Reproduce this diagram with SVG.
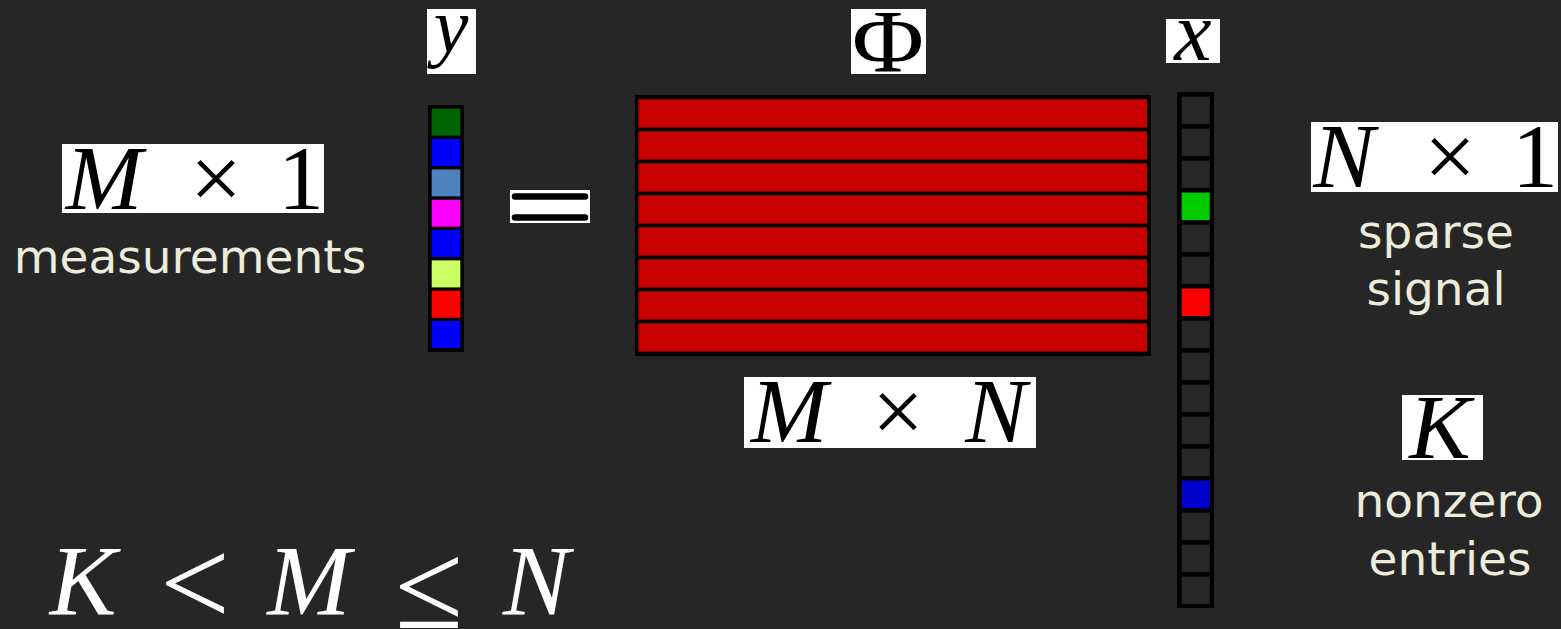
<svg xmlns="http://www.w3.org/2000/svg" width="1561" height="629" viewBox="0 0 1561 629">
<style>
.bg{fill:#262626}
.lblbox{fill:#ffffff}
.m{font-family:"Liberation Serif",serif;fill:#000000;text-anchor:middle}
.mi{font-family:"Liberation Serif",serif;font-style:italic;fill:#000000;text-anchor:middle}
.mw{font-family:"Liberation Serif",serif;fill:#ffffff;text-anchor:middle}
.mwi{font-family:"Liberation Serif",serif;font-style:italic;fill:#ffffff;text-anchor:middle}
.cap{font-family:"DejaVu Sans",Verdana,sans-serif;font-size:47px;fill:#ECECDC;text-anchor:middle}
.frame{fill:#000000}
.xcell{fill:#282828}
.row{fill:#C80000}
.bar{stroke:#000000;stroke-width:6.5;stroke-linecap:round}
</style>
<rect class="bg" x="0" y="0" width="1561" height="629"/>

<g id="y-vector">
  <rect class="lblbox" x="427" y="9" width="49" height="65"/>
  <text class="mi" x="451" y="52" font-size="78">y</text>
  <rect class="frame" x="428" y="105" width="36" height="247"/>
  <rect x="431.7" y="108.7" width="28.6" height="27" fill="#006400"/>
  <rect x="431.7" y="139.0" width="28.6" height="27" fill="#0000FF"/>
  <rect x="431.7" y="169.4" width="28.6" height="27" fill="#4F81BD"/>
  <rect x="431.7" y="199.7" width="28.6" height="27" fill="#FF00FF"/>
  <rect x="431.7" y="230.0" width="28.6" height="27" fill="#0000FF"/>
  <rect x="431.7" y="260.4" width="28.6" height="27" fill="#CCFF66"/>
  <rect x="431.7" y="290.7" width="28.6" height="27" fill="#FF0000"/>
  <rect x="431.7" y="321.0" width="28.6" height="27" fill="#0000FF"/>
</g>

<g id="equals">
  <rect class="lblbox" x="510" y="190" width="80" height="33"/>
  <line class="bar" x1="515" y1="196.5" x2="585" y2="196.5"/>
  <line class="bar" x1="515" y1="217.5" x2="585" y2="217.5"/>
</g>

<g id="phi-matrix">
  <rect class="lblbox" x="851" y="9" width="75" height="65"/>
  <text class="m" x="888" y="71" font-size="88" textLength="72" lengthAdjust="spacingAndGlyphs">Φ</text>
  <rect class="frame" x="635" y="95" width="516" height="261"/>
  <rect class="row" x="638.5" y="99.3" width="508.5" height="28.3"/>
  <rect class="row" x="638.5" y="131.3" width="508.5" height="28.3"/>
  <rect class="row" x="638.5" y="163.3" width="508.5" height="28.3"/>
  <rect class="row" x="638.5" y="195.3" width="508.5" height="28.3"/>
  <rect class="row" x="638.5" y="227.3" width="508.5" height="28.3"/>
  <rect class="row" x="638.5" y="259.3" width="508.5" height="28.3"/>
  <rect class="row" x="638.5" y="291.3" width="508.5" height="28.3"/>
  <rect class="row" x="638.5" y="323.3" width="508.5" height="28.3"/>
  <rect class="lblbox" x="744" y="377" width="292" height="71"/>
  <text class="mi" x="789" y="442" font-size="92">M</text>
  <text class="m" x="898" y="442" font-size="92">×</text>
  <text class="mi" x="996" y="442" font-size="92">N</text>
</g>

<g id="x-vector">
  <rect class="lblbox" x="1166" y="19" width="54" height="44"/>
  <text class="mi" x="1193" y="60" font-size="84">x</text>
  <rect class="frame" x="1177" y="92" width="37" height="516"/>
  <rect class="xcell" x="1181.7" y="96.6" width="28" height="27.5"/>
  <rect class="xcell" x="1181.7" y="128.6" width="28" height="27.5"/>
  <rect class="xcell" x="1181.7" y="160.6" width="28" height="27.5"/>
  <rect x="1181.7" y="192.6" width="28" height="27.5" fill="#00CC00"/>
  <rect class="xcell" x="1181.7" y="224.6" width="28" height="27.5"/>
  <rect class="xcell" x="1181.7" y="256.6" width="28" height="27.5"/>
  <rect x="1181.7" y="288.6" width="28" height="27.5" fill="#FF0000"/>
  <rect class="xcell" x="1181.7" y="320.6" width="28" height="27.5"/>
  <rect class="xcell" x="1181.7" y="352.6" width="28" height="27.5"/>
  <rect class="xcell" x="1181.7" y="384.6" width="28" height="27.5"/>
  <rect class="xcell" x="1181.7" y="416.6" width="28" height="27.5"/>
  <rect class="xcell" x="1181.7" y="448.6" width="28" height="27.5"/>
  <rect x="1181.7" y="480.6" width="28" height="27.5" fill="#0000CC"/>
  <rect class="xcell" x="1181.7" y="512.6" width="28" height="27.5"/>
  <rect class="xcell" x="1181.7" y="544.6" width="28" height="27.5"/>
  <rect class="xcell" x="1181.7" y="576.6" width="28" height="27.5"/>
</g>

<g id="measurements-label">
  <rect class="lblbox" x="62" y="144" width="262" height="69"/>
  <text class="mi" x="104" y="209" font-size="92">M</text>
  <text class="m" x="216" y="209" font-size="92">×</text>
  <text class="m" x="301" y="209" font-size="92">1</text>
  <text class="cap" x="190" y="273">measurements</text>
</g>

<g id="signal-label">
  <rect class="lblbox" x="1311" y="122" width="247" height="70"/>
  <text class="mi" x="1344" y="187" font-size="92">N</text>
  <text class="m" x="1450" y="187" font-size="92">×</text>
  <text class="m" x="1535" y="187" font-size="92">1</text>
  <text class="cap" x="1436" y="248">sparse</text>
  <text class="cap" x="1436" y="305">signal</text>
</g>

<g id="nonzero-label">
  <rect class="lblbox" x="1402" y="395" width="81" height="65"/>
  <text class="mi" x="1440" y="458" font-size="92">K</text>
  <text class="cap" x="1449" y="517">nonzero</text>
  <text class="cap" x="1450" y="575">entries</text>
</g>

<g id="inequality">
  <text class="mwi" x="83" y="614" font-size="100">K</text>
  <text class="mw" x="195" y="625" font-size="124">&lt;</text>
  <text class="mwi" x="309" y="614" font-size="100">M</text>
  <text class="mw" x="429" y="628" font-size="124">≤</text>
  <text class="mwi" x="536" y="614" font-size="100">N</text>
</g>
</svg>
